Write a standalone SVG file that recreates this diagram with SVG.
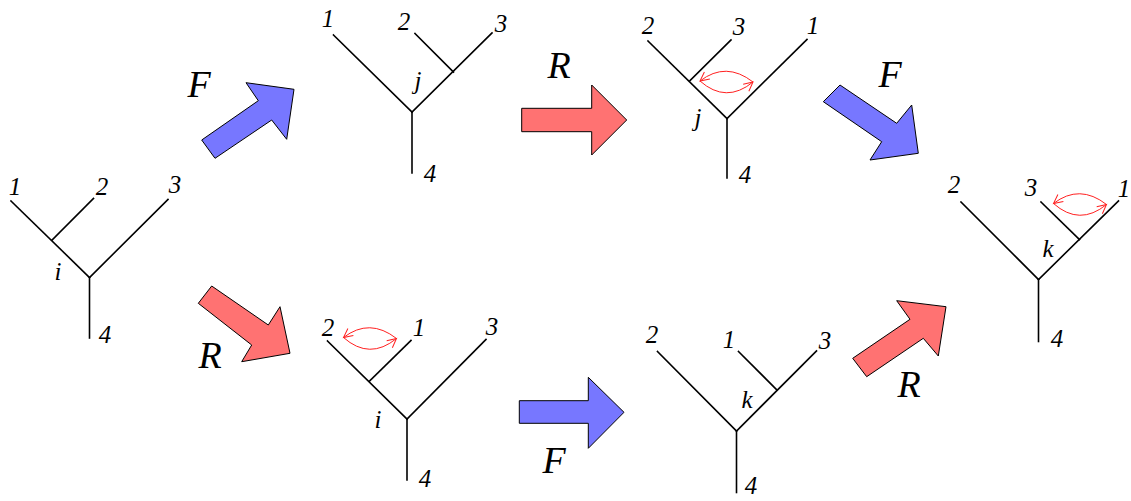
<svg xmlns="http://www.w3.org/2000/svg" width="1131" height="501" viewBox="0 0 1131 501">
<style>
.tree line{stroke:#000;stroke-width:1.6;stroke-linecap:square}
text{font-family:"Liberation Serif","Times New Roman",serif;font-style:italic;fill:#000;text-anchor:middle}
.lbl{font-size:25px}
.big{font-size:38px}
.blue{fill:#7777ff;stroke:#000;stroke-width:1}
.red{fill:#ff7272;stroke:#000;stroke-width:1}
.sw{fill:none;stroke:#ff2020;stroke-width:1}
</style>
<defs>
<marker id="vh" markerWidth="12" markerHeight="12" refX="10" refY="6" orient="auto" markerUnits="userSpaceOnUse">
<path d="M1,1.5 L10,6 L1,10.5" fill="none" stroke="#ff2020" stroke-width="1"/>
</marker>
<g id="swap">
<path class="sw" d="M53,1 Q26,-20 0,0" marker-end="url(#vh)"/>
<path class="sw" d="M0,0 Q26,23 53,1" marker-end="url(#vh)"/>
</g>
</defs>

<g id="tree-i" class="tree">
<line x1="11" y1="201" x2="89.5" y2="277.5"/>
<line x1="52" y1="240" x2="93.5" y2="198.5"/>
<line x1="89.5" y1="277.5" x2="168" y2="199.5"/>
<line x1="89.5" y1="277.5" x2="89.5" y2="338"/>
<text class="lbl" x="15" y="195">1</text>
<text class="lbl" x="102" y="195">2</text>
<text class="lbl" x="175" y="193">3</text>
<text class="lbl" x="58" y="280">i</text>
<text class="lbl" x="105" y="343">4</text>
</g>

<g id="tree-j" class="tree">
<line x1="333.5" y1="35" x2="412" y2="112"/>
<line x1="415" y1="33.5" x2="453.5" y2="72"/>
<line x1="412" y1="112" x2="492" y2="33"/>
<line x1="412" y1="112" x2="412" y2="173"/>
<text class="lbl" x="328" y="27">1</text>
<text class="lbl" x="404" y="30">2</text>
<text class="lbl" x="501" y="32">3</text>
<text class="lbl" x="418" y="89">j</text>
<text class="lbl" x="430" y="182">4</text>
</g>

<g id="tree-j2" class="tree">
<line x1="648" y1="41" x2="727" y2="118.5"/>
<line x1="690" y1="80.5" x2="731" y2="40"/>
<line x1="727" y1="118.5" x2="807" y2="39.5"/>
<line x1="727" y1="118.5" x2="727" y2="178"/>
<text class="lbl" x="648" y="34">2</text>
<text class="lbl" x="739" y="35">3</text>
<text class="lbl" x="813" y="34">1</text>
<text class="lbl" x="698" y="126">j</text>
<text class="lbl" x="745" y="183">4</text>
<use href="#swap" x="700" y="81"/>
</g>

<g id="tree-k2" class="tree">
<line x1="961" y1="202" x2="1038.5" y2="279.5"/>
<line x1="1041" y1="202" x2="1079.5" y2="239.5"/>
<line x1="1038.5" y1="279.5" x2="1118.5" y2="201"/>
<line x1="1038.5" y1="279.5" x2="1038.5" y2="341.5"/>
<text class="lbl" x="954" y="193">2</text>
<text class="lbl" x="1031" y="196">3</text>
<text class="lbl" x="1124" y="197">1</text>
<text class="lbl" x="1048" y="257">k</text>
<text class="lbl" x="1057" y="347">4</text>
<use href="#swap" x="1053.5" y="203.5"/>
</g>

<g id="tree-i2" class="tree">
<line x1="327.5" y1="341" x2="407" y2="419"/>
<line x1="369.5" y1="381" x2="411" y2="340.5"/>
<line x1="407" y1="419" x2="486" y2="339.5"/>
<line x1="407" y1="419" x2="407" y2="480"/>
<text class="lbl" x="328" y="336">2</text>
<text class="lbl" x="419" y="336">1</text>
<text class="lbl" x="492" y="335">3</text>
<text class="lbl" x="378" y="428">i</text>
<text class="lbl" x="425" y="487">4</text>
<use href="#swap" x="343.5" y="337.5"/>
</g>

<g id="tree-k" class="tree">
<line x1="657.5" y1="351.5" x2="736.5" y2="431"/>
<line x1="738.5" y1="351.5" x2="777" y2="390"/>
<line x1="736.5" y1="431" x2="816.5" y2="351"/>
<line x1="736.5" y1="431" x2="736.5" y2="492.5"/>
<text class="lbl" x="652" y="343">2</text>
<text class="lbl" x="729" y="348">1</text>
<text class="lbl" x="825" y="349">3</text>
<text class="lbl" x="747" y="408">k</text>
<text class="lbl" x="751" y="494">4</text>
</g>

<g id="connectors">
<polygon class="blue" points="201.7,140 258.3,100.7 246,82.7 294,89.3 286.7,139.3 271.7,120 215,158.3"/>
<polygon class="red" points="521.7,108.3 591.7,108.3 591.7,85 626.7,120 591.7,155 591.7,131.7 521.7,131.7"/>
<polygon class="blue" points="823.3,101.7 840,85 896.7,123.3 911.7,105 918.3,153.3 870,160 881.7,141.7"/>
<polygon class="red" points="198.3,303.3 211.7,286 268.3,325 280,306.7 290,353.3 241.7,361.7 251.7,345"/>
<polygon class="blue" points="519.3,400.7 588.3,400.7 588.3,377.3 624,412.3 588.3,448.3 588.3,423.3 519.3,423.3"/>
<polygon class="red" points="852.7,358.3 910,319.3 896.7,300.7 946,306.7 938.3,356 923.3,338.3 866.7,376.7"/>
<text class="big" x="199" y="97">F</text>
<text class="big" x="559" y="78">R</text>
<text class="big" x="890" y="87">F</text>
<text class="big" x="210" y="368">R</text>
<text class="big" x="554" y="473">F</text>
<text class="big" x="909" y="397">R</text>
</g>
</svg>
